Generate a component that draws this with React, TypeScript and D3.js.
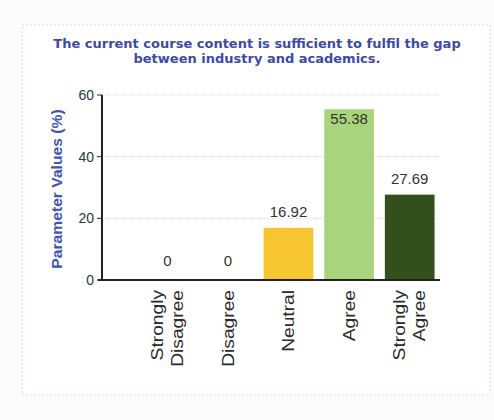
import React from "react";
import * as d3 from "d3";

const categories: string[][] = [
  ["Strongly", "Disagree"],
  ["Disagree"],
  ["Neutral"],
  ["Agree"],
  ["Strongly", "Agree"],
];
const categoryKeys = ["Strongly Disagree", "Disagree", "Neutral", "Agree", "Strongly Agree"];
const values = [0, 0, 16.92, 55.38, 27.69];
const valueLabels = ["0", "0", "16.92", "55.38", "27.69"];
const barColors = ["#f6c530", "#f6c530", "#f6c530", "#a8d47c", "#33501c"];
const yTicks = [0, 20, 40, 60];
const titleLines = [
  "The current course content is sufficient to fulfil the gap",
  "between industry and academics.",
];
const yAxisTitle = "Parameter Values (%)";

const W = 494;
const H = 420;
const axisX = 102;
const plotRight = 440;

export default function App() {
  const x = d3
    .scaleBand<string>()
    .domain(categoryKeys)
    .range([137, plotRight])
    .paddingInner(0.18)
    .paddingOuter(0.09);
  const y = d3.scaleLinear().domain([0, 60]).range([280, 95]);
  const bw = x.bandwidth();

  return (
    <svg
      width={W}
      height={H}
      style={{ position: "absolute", left: 0, top: 0, background: "#fdfdfc" }}
    >
      <rect x={0} y={0} width={W} height={H} fill="#fdfcfb" />
      <rect
        x={22}
        y={25}
        width={468}
        height={370}
        fill="#ffffff"
        stroke="#e2d6d6"
        strokeDasharray="2,2"
        strokeWidth={1}
      />
      {titleLines.map((t, i) => (
        <text
          key={i}
          x={257}
          y={48 + i * 15}
          textAnchor="middle"
          fontFamily="DejaVu Sans, Verdana, sans-serif"
          fontWeight="bold"
          fontSize={13}
          fill="#3d4aa6"
        >
          {t}
        </text>
      ))}
      {/* gridlines */}
      {yTicks
        .filter((t) => t > 0)
        .map((t) => (
          <line
            key={t}
            x1={axisX}
            x2={plotRight}
            y1={y(t)}
            y2={y(t)}
            stroke="#d9d9d9"
            strokeDasharray="1,1"
          />
        ))}
      {/* bars */}
      {values.map((v, i) => (
        <rect
          key={i}
          x={x(categoryKeys[i])}
          y={y(v)}
          width={bw}
          height={y(0) - y(v)}
          fill={barColors[i]}
        />
      ))}
      {/* value labels */}
      {values.map((v, i) => {
        let ly = y(v) - (v === 0 ? 14 : 11);
        if (ly < y(60) + 18) ly = y(v) + 15;
        return (
          <text
            key={i}
            x={(x(categoryKeys[i]) as number) + bw / 2}
            y={ly}
            textAnchor="middle"
            fontFamily="Liberation Sans, Arial, sans-serif"
            fontSize={15}
            fill="#333"
          >
            {valueLabels[i]}
          </text>
        );
      })}
      {/* y axis */}
      <line x1={axisX} x2={axisX} y1={y(60)} y2={y(0) + 1} stroke="#222" strokeWidth={2} />
      {yTicks.map((t) => (
        <g key={t}>
          <line x1={axisX - 5} x2={axisX} y1={y(t)} y2={y(t)} stroke="#222" strokeWidth={1} />
          <text
            x={axisX - 8}
            y={y(t)}
            dy="0.35em"
            textAnchor="end"
            fontFamily="Liberation Sans, Arial, sans-serif"
            fontSize={14}
            fill="#333"
          >
            {t}
          </text>
        </g>
      ))}
      {/* x axis */}
      <line x1={axisX - 4} x2={plotRight} y1={y(0)} y2={y(0)} stroke="#222" strokeWidth={2} />
      {categoryKeys.map((k, i) => {
        const cx = (x(k) as number) + bw / 2;
        const lines = categories[i];
        const lh = 20;
        return (
          <g key={k} transform={`translate(${cx},${y(0) + 10}) rotate(-90) scale(1.2,1)`}>
            {lines.map((ln, j) => (
              <text
                key={j}
                x={0}
                y={(j - (lines.length - 1) / 2) * lh}
                dy="0.35em"
                textAnchor="end"
                fontFamily="Liberation Sans, Arial, sans-serif"
                fontSize={16}
                fill="#2a2a2a"
              >
                {ln}
              </text>
            ))}
          </g>
        );
      })}
      {/* y axis title */}
      <g transform={`translate(57,189) rotate(-90) scale(1.12,1)`}>
        <text
          x={0}
          y={0}
          dy="0.35em"
          textAnchor="middle"
          fontFamily="Liberation Sans, Arial, sans-serif"
          fontWeight="bold"
          fontSize={14}
          fill="#3f55b3"
        >
          {yAxisTitle}
        </text>
      </g>
    </svg>
  );
}
